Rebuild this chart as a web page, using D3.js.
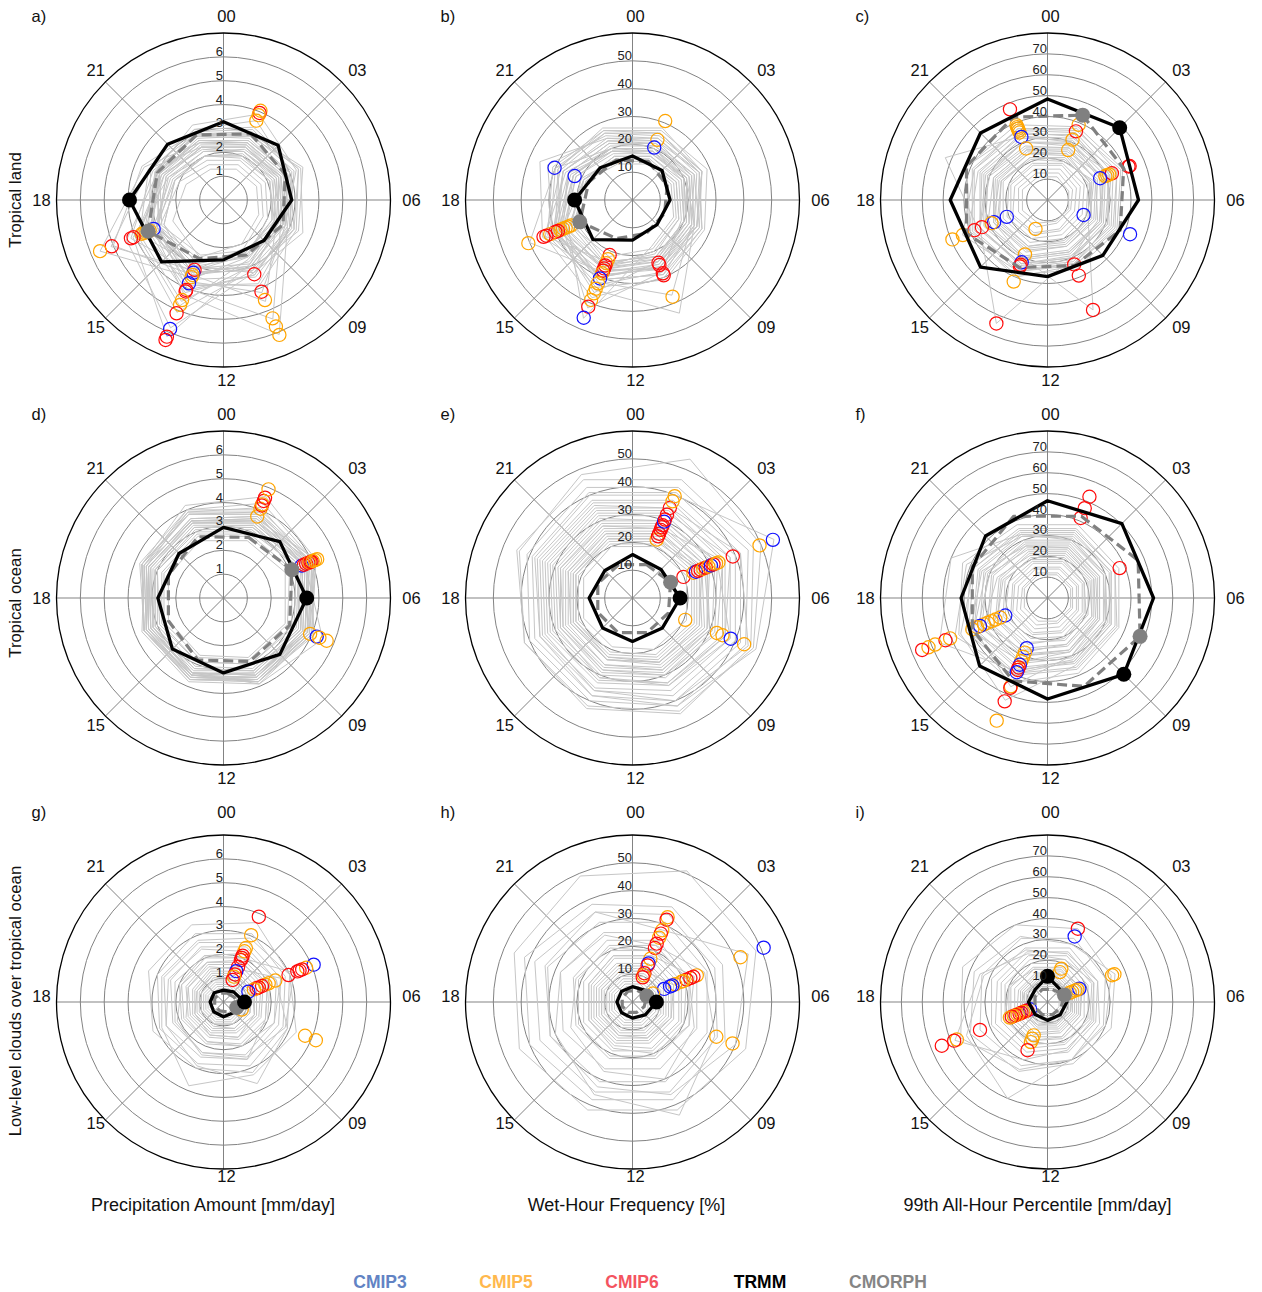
<!DOCTYPE html>
<html><head><meta charset="utf-8">
<script src="https://cdn.jsdelivr.net/npm/d3@7"></script>
<style>body{margin:0;background:#fff;} svg{display:block;font-family:"Liberation Sans",Arial,sans-serif;}</style>
</head><body><svg id="c" width="1262" height="1292"></svg>
<script>
// ---------- labels ----------
const hoursObs = [0,3,6,9,12,15,18,21];
const hoursMod = [1.5,4.5,7.5,10.5,13.5,16.5,19.5,22.5];
const hourLabels = ["00","03","06","09","12","15","18","21"];
const panelLetters = ["a)","b)","c)","d)","e)","f)","g)","h)","i)"];
const rowLabels = ["Tropical land","Tropical ocean","Low-level clouds over tropical ocean"];
const colLabels = ["Precipitation Amount [mm/day]","Wet-Hour Frequency [%]","99th All-Hour Percentile [mm/day]"];
const rMax = [7,60,80];
const rTicks = [[1,2,3,4,5,6],[10,20,30,40,50],[10,20,30,40,50,60,70]];
const legendNames = ["CMIP3","CMIP5","CMIP6","TRMM","CMORPH"];

// ---------- panel a: tropical land, amount ----------
const trmmA = [3.28,3.24,2.86,2.40,2.51,3.67,3.94,3.31];
const cmorphA = [3.0,2.8,2.7,2.5,2.66,3.42,3.0,2.95];
const modelsA = [
 [3.0,3.2,3.0,3.4,4.2,3.6,3.1,2.9],[2.6,2.8,2.7,3.0,4.6,3.8,2.9,2.6],[2.2,2.4,2.5,3.2,5.1,4.0,2.8,2.3],
 [1.9,2.1,2.3,2.9,6.2,4.1,2.5,2.0],[3.1,3.4,3.3,3.9,3.8,3.2,3.0,3.0],[2.4,2.6,2.8,4.2,3.7,3.0,2.6,2.4],
 [2.0,2.3,2.6,5.4,4.0,3.0,2.3,2.0],[2.3,2.6,2.9,6.1,4.3,3.2,2.4,2.2],[2.8,2.9,2.8,3.0,3.3,4.2,3.2,2.9],
 [2.5,2.5,2.5,2.8,3.5,5.6,3.6,2.6],[2.2,2.3,2.2,2.5,3.2,5.1,3.4,2.4],[3.9,3.3,2.8,2.6,2.7,2.9,3.1,3.4],
 [3.6,3.0,2.5,2.3,2.5,2.8,2.9,3.2],[1.6,1.7,1.8,2.2,3.2,2.9,2.0,1.6],[1.4,1.5,1.6,2.0,2.6,2.3,1.7,1.4],
 [2.9,3.5,3.6,3.3,3.0,3.0,2.9,2.8],[2.7,2.9,3.1,3.3,5.8,4.4,3.0,2.7],[2.6,2.8,3.0,3.8,3.9,3.6,2.8,2.6],
 [2.1,2.2,2.4,4.6,3.4,2.7,2.2,2.0],[2.4,2.5,2.4,2.7,4.8,3.9,2.7,2.4],[3.2,3.1,3.0,3.1,3.4,5.0,3.7,3.1],
 [2.0,2.1,2.2,2.4,2.9,2.7,2.2,2.0],[2.4,2.4,2.3,2.4,2.8,3.0,2.6,2.4],[2.7,3.0,3.2,3.5,3.6,3.3,2.9,2.7],
 [3.3,3.4,3.2,3.2,3.3,3.4,3.3,3.2],[1.8,1.9,2.0,2.6,3.6,3.1,2.2,1.8],[2.9,3.0,2.7,2.6,3.0,3.8,3.4,3.0],
 [2.5,2.7,2.9,3.4,4.1,3.4,2.7,2.5],[2.2,2.5,2.7,3.0,3.3,3.0,2.5,2.2],[3.0,3.6,3.4,3.1,3.1,3.2,3.1,3.0],
 [2.6,2.6,2.6,2.9,3.1,3.3,2.9,2.7]
];
const peaksA = [
 [1.5,4.05,"5"],[1.5,3.95,"6"],[1.5,3.85,"5"],[1.5,3.6,"5"],
 [16.5,3.17,"3"],[16.5,3.35,"5"],[16.5,3.5,"5"],[16.5,3.6,"5"],[16.5,3.7,"5"],[16.5,4.08,"6"],[16.5,4.2,"6"],[16.5,5.07,"6"],[16.5,5.6,"5"],
 [13.5,3.17,"6"],[13.5,3.3,"3"],[13.5,3.4,"5"],[13.5,3.5,"5"],[13.5,3.78,"3"],[13.5,4.08,"6"],[13.5,4.15,"6"],[13.5,4.54,"5"],[13.5,4.76,"5"],[13.5,5.14,"6"],[13.5,5.85,"3"],[13.5,6.2,"6"],[13.5,6.35,"6"],
 [10.5,3.37,"6"],[10.5,4.16,"6"],[10.5,4.54,"5"],[10.5,5.37,"5"],[10.5,5.74,"5"],[10.5,6.12,"5"]
];

// ---------- panel b: tropical land, wet-hour frequency ----------
const trmmB = [15.8,15.0,13.5,12.5,14.4,20.1,20.8,16.4];
const cmorphB = [15,13.5,12.5,13,15,20.5,17,15.5];
const modelsB = [
 [22,24,23,26,30,28,25,22],[18,20,21,24,36,30,24,19],[16,17,18,20,26,24,20,16],[25,27,26,28,33,32,30,26],
 [20,22,23,37,32,28,23,20],[14,15,16,18,46,25,18,14],[19,21,22,25,28,40,30,20],[23,26,25,27,29,35,36,24],
 [28,27,25,24,26,28,29,28],[17,18,19,28,42,27,19,17],[21,23,24,44,35,29,23,21],[15,16,17,19,22,24,19,15],
 [24,25,24,26,28,31,33,25],[26,26,27,30,38,34,28,26],[20,20,21,22,24,34,26,20],[18,21,24,29,31,27,22,18],
 [27,29,28,31,34,33,31,27],[22,22,23,25,30,31,27,23],[19,19,20,23,27,26,22,19],
 [20,21,21,23,25,26,23,20],[17,19,20,22,24,22,19,17],[24,26,27,29,31,30,27,24],[21,24,26,27,27,27,25,22],
 [26,27,25,26,30,30,29,27],[15,17,18,21,25,23,18,15],[23,23,22,24,27,29,27,23],[19,20,20,22,26,31,25,19]
];
const peaksB = [
 [1.5,30.7,"5"],[1.5,23.4,"5"],[1.5,20.4,"3"],
 [19.5,30.3,"3"],[19.5,22.5,"3"],
 [16.5,24,"5"],[16.5,25,"5"],[16.5,26,"5"],[16.5,27,"5"],[16.5,28,"5"],[16.5,29,"6"],[16.5,30,"6"],[16.5,32,"5"],[16.5,33.5,"6"],[16.5,34.6,"6"],[16.5,40.5,"5"],
 [13.5,21.4,"6"],[13.5,23,"5"],[13.5,24.6,"5"],[13.5,25.5,"6"],[13.5,26.6,"6"],[13.5,27.5,"6"],[13.5,28.5,"5"],[13.5,30.5,"3"],[13.5,32.4,"5"],[13.5,34.5,"5"],[13.5,36.3,"5"],[13.5,38.9,"5"],[13.5,41.5,"6"],[13.5,45.8,"3"],
 [10.5,24.4,"6"],[10.5,25.3,"6"],[10.5,28.5,"6"],[10.5,29.3,"6"],[10.5,37.6,"5"]
];

// ---------- panel c: tropical land, 99th percentile ----------
const trmmC = [48.4,48.9,43.6,37.5,36.7,45.4,46.6,45.4];
const cmorphC = [44,39.5,37.7,34,35,42,42,43];
const modelsC = [
 [14,13,12,12,14,15,15,14],[18,17,16,16,18,19,19,18],[22,21,20,20,22,23,23,22],[26,25,24,24,27,28,28,26],
 [30,28,27,27,30,32,31,30],[34,32,30,31,34,35,35,34],[37,36,34,33,36,38,38,37],[20,24,22,21,24,26,24,21],
 [25,29,27,26,29,31,28,26],[28,33,31,29,33,35,32,30],[32,36,35,34,40,41,36,33],[24,22,21,57,30,28,25,24],
 [27,25,26,30,64,35,30,27],[30,30,29,30,33,36,53,33],[16,15,14,15,17,18,17,16],[35,34,33,32,35,40,42,36],
 [23,22,23,23,25,27,26,24],[33,31,32,33,37,44,38,35],[29,27,28,28,31,33,33,30],
 [12,11,11,11,12,13,13,12],[19,19,18,18,20,21,20,19],[21,23,22,22,24,25,24,22],[24,26,25,24,26,28,27,25],
 [27,29,28,27,30,32,31,28],[31,32,31,30,33,35,34,32],[36,38,36,34,37,39,39,37],[38,39,37,36,39,41,42,39]
];
const peaksC = [
 [22.5,47,"6"],[22.5,38.8,"5"],[22.5,37.8,"5"],[22.5,37,"5"],[22.5,36,"5"],[22.5,35,"5"],[22.5,32.7,"3"],[22.5,26.7,"5"],
 [1.5,39,"5"],[1.5,35.6,"6"],[1.5,31.3,"5"],[1.5,25.9,"5"],
 [4.5,42,"6"],[4.5,42.6,"6"],[4.5,33.4,"6"],[4.5,32,"5"],[4.5,31,"5"],[4.5,30,"5"],[4.5,27.3,"3"],
 [7.5,18.7,"3"],[7.5,42.8,"3"],
 [10.5,33.4,"6"],[10.5,39.2,"6"],[10.5,57,"6"],
 [13.5,15,"5"],[13.5,28.2,"5"],[13.5,32.3,"3"],[13.5,33.6,"6"],[13.5,34.5,"6"],[13.5,42.3,"5"],[13.5,64,"6"],
 [16.5,21.1,"3"],[16.5,27.7,"3"],[16.5,29,"5"],[16.5,34,"6"],[16.5,37.9,"6"],[16.5,43.9,"5"],[16.5,49.3,"5"]
];

// ---------- panel d: tropical ocean, amount ----------
const trmmD = [2.96,3.34,3.49,3.34,3.14,3.03,2.75,2.64];
const cmorphD = [2.75,3.1,3.0,2.88,2.81,2.5,2.5,2.78];
const modelsD = [
 [3.4,3.6,3.5,3.3,3.2,3.2,3.3,3.4],[3.7,3.9,3.8,3.5,3.4,3.4,3.5,3.6],[3.9,4.0,3.9,3.7,3.6,3.5,3.6,3.8],
 [3.1,3.3,3.2,3.0,2.9,2.9,3.0,3.1],[2.8,3.0,2.9,2.8,2.7,2.7,2.7,2.8],[4.3,4.1,3.8,3.6,3.5,3.5,3.6,4.0],
 [4.6,4.2,3.9,3.7,3.6,3.6,3.7,4.2],[3.5,4.0,4.1,3.8,3.5,3.3,3.3,3.4],[3.2,3.7,4.5,3.9,3.4,3.1,3.1,3.2],
 [3.6,3.7,3.6,3.6,3.7,3.5,3.4,3.5],[3.0,3.4,3.3,3.2,3.1,3.0,3.0,3.0],[3.8,3.6,3.5,3.4,3.5,3.6,3.7,3.8],
 [2.6,2.8,2.8,2.7,2.6,2.5,2.5,2.6],[3.3,3.5,3.9,3.8,3.5,3.2,3.1,3.2],[4.0,4.1,4.0,3.8,3.7,3.6,3.8,4.0],
 [3.5,3.8,3.7,3.5,3.4,3.3,3.4,3.5],[3.6,4.2,4.0,3.9,3.8,3.7,3.6,3.5],[4.1,3.9,3.7,3.6,3.6,3.4,3.5,3.9],
 [3.3,3.5,3.4,3.3,3.3,3.2,3.2,3.3],[3.5,3.6,3.5,3.4,3.4,3.3,3.4,3.5],[3.7,3.8,3.7,3.6,3.5,3.5,3.5,3.6],
 [2.9,3.1,3.1,3.0,2.9,2.8,2.8,2.9],[3.8,4.0,3.9,3.8,3.7,3.6,3.7,3.8],[3.2,3.4,3.4,3.3,3.2,3.1,3.1,3.2],
 [3.4,3.7,3.6,3.5,3.4,3.4,3.4,3.4],[3.9,3.8,3.8,3.7,3.7,3.6,3.7,3.9]
];
const peaksD = [
 [1.5,3.7,"5"],[1.5,4.05,"5"],[1.5,4.2,"6"],[1.5,4.25,"5"],[1.5,4.4,"6"],[1.5,4.55,"6"],[1.5,4.93,"5"],
 [4.5,3.55,"3"],[4.5,3.65,"6"],[4.5,3.75,"6"],[4.5,3.85,"6"],[4.5,3.9,"5"],[4.5,3.95,"6"],[4.5,4.0,"6"],[4.5,4.05,"5"],[4.5,4.15,"5"],[4.5,4.25,"5"],
 [7.5,3.93,"5"],[7.5,4.23,"3"],[7.5,4.35,"5"],[7.5,4.68,"5"]
];

// ---------- panel e: tropical ocean, wet-hour frequency ----------
const trmmE = [15.6,14.5,17.1,15.2,15.6,15.2,15.6,14.0];
const cmorphE = [13,14.8,14,13.5,13.5,13.5,13.5,13];
const modelsE = [
 [20,21,21,20,19,19,19,20],[23,24,24,23,22,22,22,23],[26,27,26,25,24,24,25,26],[29,30,29,28,27,27,28,29],
 [32,33,32,31,30,30,31,32],[35,36,36,34,33,33,34,35],[38,40,40,38,36,36,37,38],[43,45,44,42,40,40,41,43],
 [54,50,47,44,42,42,44,48],[40,55,48,42,38,36,38,40],[35,42,45,40,36,34,35,36],[30,33,38,34,31,29,30,31],
 [27,35,33,30,28,27,27,28],[25,28,30,28,26,25,25,25],[22,26,27,25,23,22,22,22],[24,25,25,24,23,23,23,24],
 [46,47,46,45,43,42,45,46],[28,29,30,29,28,28,28,28],[33,38,36,33,31,31,32,33],
 [21,23,23,22,21,21,21,21],[25,26,26,25,24,24,24,25],[27,29,29,27,26,26,26,27],[30,32,31,30,29,28,29,30],
 [34,35,35,33,32,32,33,34],[37,38,38,36,35,35,36,37],[41,42,42,40,38,38,39,41],[23,27,28,26,24,23,23,23]
];
const peaksE = [
 [1.5,22.7,"5"],[1.5,24,"6"],[1.5,25,"6"],[1.5,26.5,"6"],[1.5,27.5,"6"],[1.5,28.3,"6"],[1.5,29.7,"3"],[1.5,30.5,"6"],[1.5,32.4,"6"],[1.5,35,"6"],[1.5,37.6,"5"],[1.5,39.6,"5"],
 [4.5,19.8,"6"],[4.5,23.7,"5"],[4.5,24.7,"3"],[4.5,25.5,"6"],[4.5,26.5,"6"],[4.5,27.5,"5"],[4.5,28.5,"6"],[4.5,29.5,"5"],[4.5,30.5,"3"],[4.5,31.5,"6"],[4.5,32.5,"5"],[4.5,33.4,"5"],[4.5,39,"6"],[4.5,49.4,"5"],[4.5,54.6,"3"],
 [7.5,20.5,"5"],[7.5,32.8,"5"],[7.5,35,"5"],[7.5,38.2,"3"],[7.5,43.4,"5"]
];

// ---------- panel f: tropical ocean, 99th percentile ----------
const trmmF = [46.6,50.4,50.8,51.7,48.4,46.0,41.4,42.0];
const cmorphF = [42.4,47,48,45.8,43,39,39,42.4];
const modelsF = [
 [12,12,12,12,12,12,12,12],[15,15,15,15,16,16,15,15],[18,18,18,18,19,19,18,18],[21,21,21,22,23,23,22,21],
 [24,24,24,25,27,27,25,24],[27,27,27,28,30,31,29,27],[30,30,30,31,34,35,33,30],[33,33,33,34,37,39,36,33],
 [36,35,36,37,40,42,40,36],[38,37,37,39,44,46,44,38],[25,24,25,27,30,36,30,25],[22,22,23,24,28,33,26,22],
 [28,27,27,30,46,38,32,28],[30,29,30,32,38,56,50,33],[20,19,20,21,24,26,23,20],[34,33,33,35,53,45,38,34],
 [26,25,26,28,33,40,34,27],[31,30,31,33,39,48,42,32],
 [13,13,13,13,14,14,13,13],[16,16,16,17,18,18,17,16],[19,19,19,20,21,22,20,19],[23,23,23,24,26,26,24,23],
 [26,26,26,27,29,30,28,26],[29,29,29,30,33,34,31,29],[32,32,32,33,36,38,35,32],[35,35,35,36,39,41,38,35]
];
const peaksF = [
 [1.5,52.5,"6"],[1.5,46.6,"6"],[1.5,41.5,"6"],
 [4.5,37.4,"6"],
 [16.5,21.9,"3"],[16.5,24.5,"5"],[16.5,27,"5"],[16.5,29,"5"],[16.5,31,"5"],[16.5,33,"5"],[16.5,35,"3"],[16.5,36.5,"5"],[16.5,39,"5"],[16.5,50.5,"5"],[16.5,52.9,"6"],[16.5,58.3,"5"],[16.5,61.7,"5"],[16.5,65,"6"],
 [13.5,26,"3"],[13.5,28.3,"5"],[13.5,30.5,"5"],[13.5,32.8,"5"],[13.5,34.6,"3"],[13.5,36,"6"],[13.5,37.3,"6"],[13.5,38.5,"3"],[13.5,45.8,"5"],[13.5,46.6,"6"],[13.5,53.6,"6"],[13.5,63.6,"5"]
];

// ---------- panel g: low clouds, amount ----------
const trmmG = [0.5,0.6,0.88,0.62,0.62,0.58,0.56,0.55];
const cmorphG = [0.4,0.5,0.6,0.45,0.4,0.4,0.4,0.4];
const modelsG = [
 [0.5,0.5,0.5,0.5,0.5,0.5,0.5,0.5],[0.7,0.7,0.7,0.7,0.7,0.7,0.7,0.7],[0.9,0.9,0.9,0.9,0.9,0.9,0.9,0.9],
 [1.1,1.1,1.1,1.0,1.0,1.0,1.0,1.1],[1.3,1.3,1.2,1.2,1.2,1.2,1.2,1.3],[1.6,1.5,1.5,1.4,1.4,1.4,1.4,1.5],
 [1.9,1.8,1.7,1.7,1.6,1.6,1.7,1.8],[2.2,2.1,2.0,2.0,1.9,1.9,2.0,2.1],[2.5,2.4,2.3,2.4,2.3,2.3,2.4,2.5],
 [3.1,2.8,2.7,2.9,2.8,2.9,3.0,3.1],[3.6,3.0,2.9,3.2,3.0,3.2,3.4,3.5],[2.0,3.2,2.8,2.5,2.3,2.2,2.2,2.1],
 [1.5,2.6,2.3,2.0,1.8,1.7,1.6,1.6],[2.3,2.4,2.9,3.7,2.9,2.6,2.5,2.4],[2.9,3.0,3.3,3.3,3.8,2.8,2.8,2.8],
 [1.2,1.3,1.4,1.6,1.5,1.3,1.2,1.2],[1.8,2.0,1.9,2.6,2.4,2.1,1.9,1.8],
 [0.6,0.6,0.6,0.6,0.6,0.6,0.6,0.6],[0.8,0.8,0.8,0.8,0.8,0.8,0.8,0.8],[1.0,1.0,1.0,1.0,1.0,1.0,1.0,1.0],
 [1.2,1.2,1.2,1.2,1.1,1.1,1.1,1.2],[1.4,1.4,1.4,1.3,1.3,1.3,1.3,1.4],[1.7,1.7,1.6,1.6,1.5,1.5,1.6,1.7],
 [2.0,2.0,1.9,1.9,1.8,1.8,1.9,2.0],[2.7,2.6,2.5,2.6,2.5,2.6,2.7,2.7]
];
const peaksG = [
 [1.5,3.87,"6"],[1.5,3.03,"5"],[1.5,2.45,"5"],[1.5,2.3,"5"],[1.5,2.1,"6"],[1.5,2.0,"6"],[1.5,1.9,"6"],[1.5,1.6,"6"],[1.5,1.4,"3"],[1.5,1.25,"6"],[1.5,1.15,"5"],[1.5,1.0,"6"],
 [4.5,4.09,"3"],[4.5,3.75,"5"],[4.5,3.57,"6"],[4.5,3.45,"6"],[4.5,3.35,"6"],[4.5,2.95,"6"],[4.5,2.35,"5"],[4.5,2.05,"5"],[4.5,1.9,"5"],[4.5,1.75,"6"],[4.5,1.6,"6"],[4.5,1.5,"6"],[4.5,1.38,"5"],[4.5,1.13,"3"],
 [7.5,3.7,"5"],[7.5,4.19,"5"],[7.5,0.83,"5"]
];

// ---------- panel h: low clouds, wet-hour frequency ----------
const trmmH = [5.5,6.0,8.6,6.5,5.8,5.5,5.6,5.5];
const cmorphH = [4.5,5.6,4.5,4,4,4,4,4.2];
const modelsH = [
 [6,6,6,6,6,6,6,6],[8,8,8,8,8,8,8,8],[10,10,10,10,10,10,10,10],[12,12,12,12,12,12,12,12],
 [14,14,14,14,14,14,14,14],[17,16,16,16,16,16,16,17],[20,19,19,19,19,19,19,20],[24,22,22,22,22,22,23,24],
 [27,25,25,26,26,27,28,27],[31,29,29,31,31,32,33,31],[37,35,36,38,38,40,42,38],[51,48,44,42,42,44,46,49],
 [12,16,15,14,13,12,12,12],[18,24,22,20,18,17,17,18],[28,45,40,36,33,32,34,35],[22,28,32,44,36,30,28,26],
 [20,22,24,30,27,24,22,21],
 [7,7,7,7,7,7,7,7],[9,9,9,9,9,9,9,9],[11,11,11,11,11,11,11,11],[13,13,13,13,13,13,13,13],
 [15,15,15,15,15,15,15,15],[18,18,18,18,17,17,17,18],[22,21,20,21,21,21,21,22],[34,32,33,35,35,36,38,35]
];
const peaksH = [
 [1.5,33,"5"],[1.5,32,"6"],[1.5,27.9,"5"],[1.5,26.6,"6"],[1.5,25,"5"],[1.5,22.7,"6"],[1.5,21,"6"],[1.5,16.8,"5"],[1.5,15,"3"],[1.5,14.2,"6"],[1.5,11.2,"6"],[1.5,10.4,"5"],[1.5,9.6,"6"],
 [4.5,25,"5"],[4.5,23.7,"6"],[4.5,22.5,"6"],[4.5,21,"6"],[4.5,19.8,"5"],[4.5,19,"5"],[4.5,16.6,"5"],[4.5,15.5,"3"],[4.5,14.6,"3"],[4.5,12.3,"3"],[4.5,8,"5"],[4.5,42,"5"],[4.5,51,"3"],
 [7.5,32.6,"5"],[7.5,38.9,"5"]
];

// ---------- panel i: low clouds, 99th percentile ----------
const trmmI = [12.3,8.5,9.3,8.6,8.8,8.4,9.1,8.4];
const cmorphI = [6.5,8.8,7,6.5,6.5,6.5,6.5,6.5];
const modelsI = [
 [6,6,6,6,6,6,6,6],[8,8,8,8,8,8,8,8],[10,10,10,10,10,10,10,10],[12,12,12,12,12,12,12,12],
 [14,14,14,14,14,14,14,14],[17,16,16,16,17,17,17,17],[20,19,19,19,20,20,20,20],[24,23,22,22,24,24,24,24],
 [28,26,25,26,28,29,29,28],[33,30,29,30,33,35,34,33],[30,35,33,32,36,40,38,34],[22,24,23,25,30,48,35,25],
 [25,26,27,30,50,42,33,27],[16,18,17,18,20,22,20,17],[38,33,30,30,35,45,44,40],[11,13,12,11,12,14,12,11],
 [7,7,7,7,7,7,7,7],[9,9,9,9,9,9,9,9],[11,11,11,11,11,11,11,11],[13,13,13,13,13,13,13,13],
 [15,15,15,15,16,16,15,15],[18,17,17,18,18,19,19,18],[22,21,21,21,22,22,22,22],[26,24,24,24,26,27,26,26]
];
const peaksI = [
 [1.5,38,"6"],[1.5,34,"3"],[1.5,17.3,"5"],[1.5,15.5,"5"],
 [4.5,34.7,"5"],[4.5,33.5,"5"],[4.5,16.5,"3"],[4.5,15.5,"5"],[4.5,14.4,"5"],[4.5,12.8,"5"],[4.5,11.5,"5"],
 [16.5,9,"3"],[16.5,10.5,"6"],[16.5,11.5,"6"],[16.5,12.5,"5"],[16.5,13.5,"6"],[16.5,14.5,"6"],[16.5,15.5,"5"],[16.5,16.5,"6"],[16.5,17.5,"5"],[16.5,18.5,"6"],[16.5,19.5,"5"],[16.5,35,"6"],[16.5,47,"5"],[16.5,48.4,"6"],[16.5,54.8,"6"],
 [13.5,17.3,"5"],[13.5,19,"5"],[13.5,20.8,"5"],[13.5,25,"6"]
];

// ---------- drawing ----------
const panels = [
 {trmm:trmmA,cmorph:cmorphA,models:modelsA,peaks:peaksA},
 {trmm:trmmB,cmorph:cmorphB,models:modelsB,peaks:peaksB},
 {trmm:trmmC,cmorph:cmorphC,models:modelsC,peaks:peaksC},
 {trmm:trmmD,cmorph:cmorphD,models:modelsD,peaks:peaksD},
 {trmm:trmmE,cmorph:cmorphE,models:modelsE,peaks:peaksE},
 {trmm:trmmF,cmorph:cmorphF,models:modelsF,peaks:peaksF},
 {trmm:trmmG,cmorph:cmorphG,models:modelsG,peaks:peaksG},
 {trmm:trmmH,cmorph:cmorphH,models:modelsH,peaks:peaksH},
 {trmm:trmmI,cmorph:cmorphI,models:modelsI,peaks:peaksI}
];

const svg = d3.select("#c");
const R = 167;
const colX = [223.5, 632.5, 1047.5];
const rowY = [200, 598, 1002];
const labelRowY = [200, 598, 996];
const groupColor = {"3":"#1010ff","5":"#ffa500","6":"#ff0a0a"};
const legendColors = ["#6283c4","#ffb84d","#f4545f","#000000","#858585"];

panels.forEach((p, i) => {
  const row = Math.floor(i / 3), col = i % 3;
  const cx = colX[col], cy = rowY[row];
  const r = d3.scaleLinear().domain([0, rMax[col]]).range([0, R]);
  const a = d3.scaleLinear().domain([0, 24]).range([0, 2 * Math.PI]);
  const radial = d3.lineRadial().angle(d => a(d[0])).radius(d => r(d[1])).curve(d3.curveLinearClosed);
  const g = svg.append("g").attr("transform", `translate(${cx},${cy})`);

  g.selectAll("circle.ring").data(rTicks[col]).join("circle").attr("class", "ring")
    .attr("r", d => r(d)).attr("fill", "none").attr("stroke", "#838383").attr("stroke-width", 1);
  g.selectAll("line.spoke").data(hoursObs).join("line").attr("class", "spoke")
    .attr("x1", 0).attr("y1", 0)
    .attr("x2", d => r(rMax[col]) * Math.sin(a(d)))
    .attr("y2", d => -r(rMax[col]) * Math.cos(a(d)))
    .attr("stroke", "#838383").attr("stroke-width", 1);

  g.selectAll("path.model").data(p.models).join("path").attr("class", "model")
    .attr("d", m => radial(hoursMod.map((h, k) => [h, m[k]])))
    .attr("fill", "none").attr("stroke", "#c6c6c6").attr("stroke-width", 1);

  g.selectAll("circle.peak").data(p.peaks).join("circle").attr("class", "peak")
    .attr("cx", d => r(d[1]) * Math.sin(a(d[0])))
    .attr("cy", d => -r(d[1]) * Math.cos(a(d[0])))
    .attr("r", 6.6).attr("fill", "none")
    .attr("stroke", d => groupColor[d[2]]).attr("stroke-width", 1.2);

  const cm = hoursMod.map((h, k) => [h, p.cmorph[k]]);
  g.append("path").attr("d", radial(cm)).attr("fill", "none")
    .attr("stroke", "#808080").attr("stroke-width", 3.2).attr("stroke-dasharray", "10,5")
    .attr("stroke-linejoin", "round");
  const tr = hoursObs.map((h, k) => [h, p.trmm[k]]);
  g.append("path").attr("d", radial(tr)).attr("fill", "none")
    .attr("stroke", "#000").attr("stroke-width", 3.3).attr("stroke-linejoin", "round");

  const cmMax = cm.reduce((m, d) => d[1] > m[1] ? d : m);
  const trMax = tr.reduce((m, d) => d[1] > m[1] ? d : m);
  g.append("circle").attr("cx", r(cmMax[1]) * Math.sin(a(cmMax[0])))
    .attr("cy", -r(cmMax[1]) * Math.cos(a(cmMax[0]))).attr("r", 7.5).attr("fill", "#808080");
  g.append("circle").attr("cx", r(trMax[1]) * Math.sin(a(trMax[0])))
    .attr("cy", -r(trMax[1]) * Math.cos(a(trMax[0]))).attr("r", 7.5).attr("fill", "#000");

  g.append("circle").attr("r", r(rMax[col])).attr("fill", "none").attr("stroke", "#000").attr("stroke-width", 1.3);

  g.selectAll("text.rlab").data(rTicks[col]).join("text").attr("class", "rlab")
    .attr("x", -0.5).attr("y", d => -r(d) - 5.5)
    .attr("text-anchor", "end").attr("dominant-baseline", "central")
    .attr("font-size", 13).attr("fill", "#222").text(d => d);

  const lg = svg.append("g").attr("transform", `translate(${cx},${labelRowY[row]})`);
  lg.selectAll("text.hlab").data(hoursObs).join("text").attr("class", "hlab")
    .attr("x", d => 185 * Math.sin(a(d)) + 3)
    .attr("y", d => -182 * Math.cos(a(d)) - 2 * Math.abs(Math.cos(a(d))))
    .attr("text-anchor", "middle").attr("dominant-baseline", "central")
    .attr("font-size", 16.5).attr("fill", "#111").text((d, k) => hourLabels[k]);

  svg.append("text").attr("x", cx - 192).attr("y", labelRowY[row] - 184)
    .attr("dominant-baseline", "central").attr("font-size", 16.5).attr("fill", "#111")
    .text(panelLetters[i]);
});

const rowLabelY = [200, 603, 1001];
rowLabels.forEach((t, k) => {
  svg.append("text").attr("transform", `translate(15,${rowLabelY[k]}) rotate(-90)`)
    .attr("text-anchor", "middle").attr("dominant-baseline", "central")
    .attr("font-size", 16.8).attr("fill", "#111").text(t);
});
const colLabelX = [213, 626.5, 1037.5];
colLabels.forEach((t, k) => {
  svg.append("text").attr("x", colLabelX[k]).attr("y", 1205)
    .attr("text-anchor", "middle").attr("dominant-baseline", "central")
    .attr("font-size", 18).attr("fill", "#111").text(t);
});
const legendX = [380, 506, 632, 760, 888];
legendNames.forEach((t, k) => {
  svg.append("text").attr("x", legendX[k]).attr("y", 1282)
    .attr("text-anchor", "middle").attr("dominant-baseline", "central")
    .attr("font-size", 17.5).attr("font-weight", "bold").attr("fill", legendColors[k]).text(t);
});
</script></body></html>
